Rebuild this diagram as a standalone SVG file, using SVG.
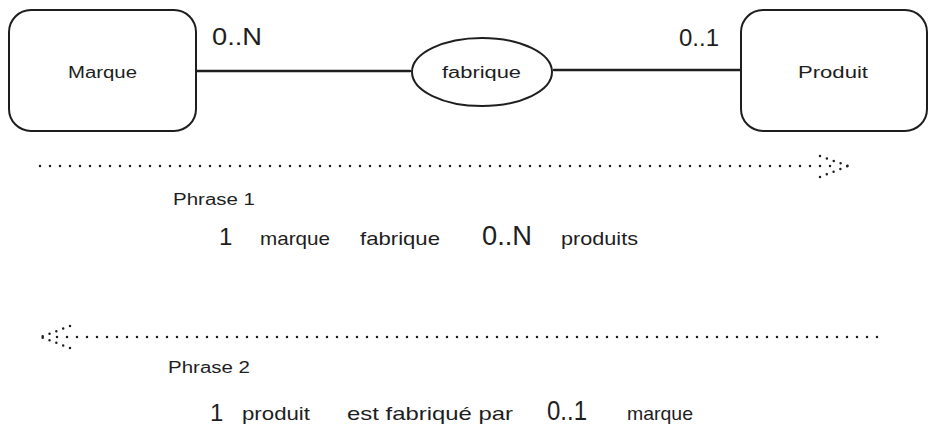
<svg xmlns="http://www.w3.org/2000/svg" width="936" height="441" viewBox="0 0 936 441">
<style>
.shape{fill:#fff;stroke:#1e1e1e;stroke-width:2}
.conn{stroke:#1e1e1e;stroke-width:2.5;fill:none;stroke-linecap:round}
.dot{stroke:#1e1e1e;stroke-width:2.5;fill:none;stroke-linecap:round;stroke-dasharray:0 10}
.head{stroke:#1e1e1e;stroke-width:2.5;fill:none;stroke-linecap:round;stroke-dasharray:0 7.3}
.t{font-family:"Liberation Sans",Arial,sans-serif;fill:#1e1e1e}
.lbl{font-size:16px}
.card{font-size:24px}
.card2{font-size:27px}
.one{font-size:24px}
.ph{font-size:16px}
.row{font-size:19px}
</style>
<rect width="936" height="441" fill="#fff"/>
<g id="connectors">
<line class="conn" x1="197" y1="71" x2="410" y2="71"/>
<line class="conn" x1="554" y1="70" x2="740" y2="70"/>
<line class="dot" x1="40" y1="166" x2="840" y2="166"/>
<line class="head" x1="820" y1="156" x2="848" y2="166"/>
<line class="head" x1="820" y1="177" x2="848" y2="166"/>
<line class="dot" x1="877" y1="337" x2="47" y2="337"/>
<line class="head" x1="70" y1="326" x2="41" y2="337"/>
<line class="head" x1="70" y1="348" x2="41" y2="337"/>
</g>
<g id="marque">
<rect class="shape" x="9" y="10" width="187" height="121" rx="22"/>
<text class="t lbl" x="68" y="78" textLength="69" lengthAdjust="spacingAndGlyphs">Marque</text>
</g>
<g id="fabrique">
<ellipse class="shape" cx="482" cy="72" rx="70" ry="34"/>
<text class="t lbl" x="442" y="78" textLength="79" lengthAdjust="spacingAndGlyphs">fabrique</text>
</g>
<g id="produit">
<rect class="shape" x="741" y="10" width="186" height="121" rx="22"/>
<text class="t lbl" x="798" y="78" textLength="70" lengthAdjust="spacingAndGlyphs">Produit</text>
</g>
<g id="cardinalites">
<text class="t card" x="212" y="45" textLength="50" lengthAdjust="spacingAndGlyphs">0..N</text>
<text class="t card" x="679" y="46" textLength="40" lengthAdjust="spacingAndGlyphs">0..1</text>
</g>
<g id="phrase1">
<text class="t ph" x="173" y="205" textLength="82" lengthAdjust="spacingAndGlyphs">Phrase 1</text>
<text class="t one" x="219" y="245">1</text>
<text class="t row" x="260" y="245" textLength="70" lengthAdjust="spacingAndGlyphs">marque</text>
<text class="t row" x="360" y="245" textLength="80" lengthAdjust="spacingAndGlyphs">fabrique</text>
<text class="t card2" x="482" y="245" textLength="50" lengthAdjust="spacingAndGlyphs">0..N</text>
<text class="t row" x="561" y="245" textLength="77" lengthAdjust="spacingAndGlyphs">produits</text>
</g>
<g id="phrase2">
<text class="t ph" x="168" y="373" textLength="82" lengthAdjust="spacingAndGlyphs">Phrase 2</text>
<text class="t one" x="210" y="421">1</text>
<text class="t row" x="242" y="420" textLength="68" lengthAdjust="spacingAndGlyphs">produit</text>
<text class="t row" x="347" y="420" textLength="166" lengthAdjust="spacingAndGlyphs">est fabriqué par</text>
<text class="t card2" x="547" y="420" textLength="40" lengthAdjust="spacingAndGlyphs">0..1</text>
<text class="t row" x="627" y="420" textLength="66" lengthAdjust="spacingAndGlyphs">marque</text>
</g>
</svg>
